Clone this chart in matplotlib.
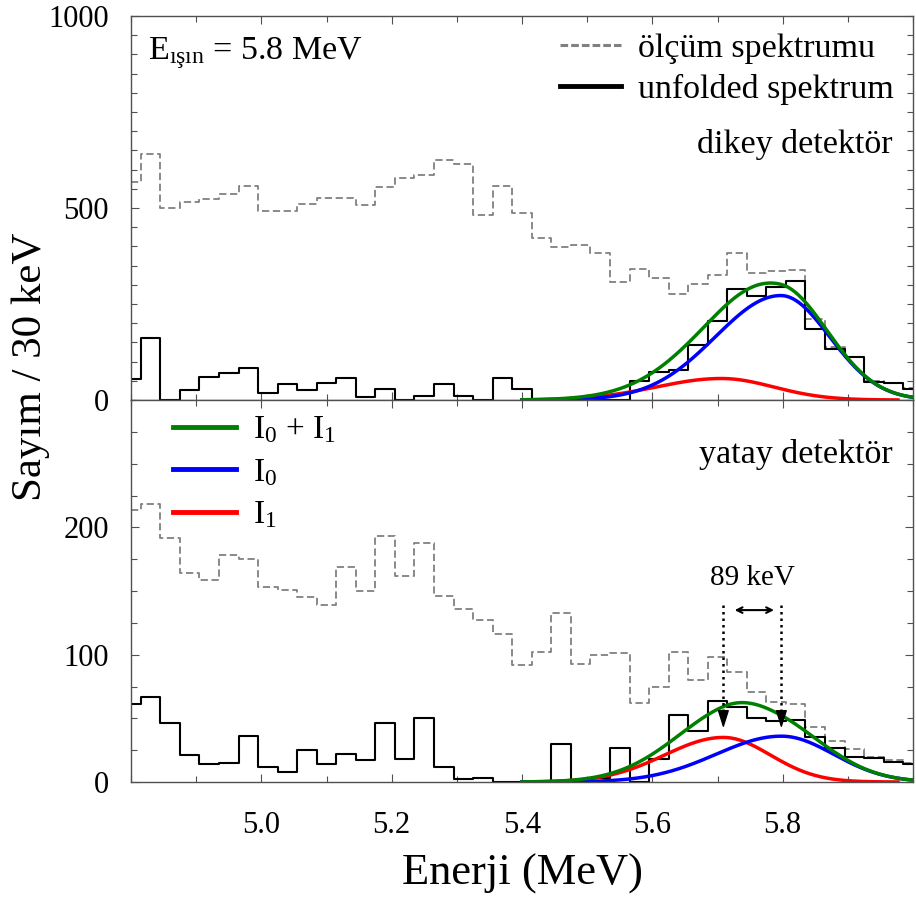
import numpy as np
import matplotlib
matplotlib.use("Agg")
import matplotlib.pyplot as plt
from matplotlib.ticker import MultipleLocator, FixedLocator
from matplotlib.lines import Line2D

plt.rcParams["font.family"] = ["Liberation Serif", "DejaVu Serif"]
plt.rcParams["mathtext.fontset"] = "custom"
plt.rcParams["mathtext.rm"] = "Liberation Serif"
plt.rcParams["mathtext.it"] = "Liberation Serif:italic"

# bin centres (MeV), 30 keV bins
energy = np.round(4.80 + 0.03 * np.arange(41), 2)

# dikey detektor (top panel)
top_measured = [568, 640, 501, 516, 523, 536, 556, 492, 492, 510, 526, 526, 508, 554,
                577, 586, 625, 615, 482, 556, 488, 421, 399, 404, 382, 308, 340, 319,
                276, 302, 326, 384, 332, 336, 339, 211, 139, 111, 50, 45, 30]
top_unfolded = [54, 161, 0, 26, 59, 71, 84, 19, 41, 26, 45, 56, 9, 28, 0, 11, 42, 10,
                0, 56, 28, 0, 0, 0, 0, 0, 50, 73, 78, 143, 206, 289, 271, 295, 311,
                184, 133, 111, 48, 43, 28]

# yatay detektor (bottom panel)
bot_measured = [214, 218, 192, 164, 159, 178, 175, 153, 151, 145, 139, 169, 150, 193,
                162, 188, 146, 136, 127, 116, 92, 102, 133, 93, 100, 101, 62, 75, 102,
                80, 98, 86, 71, 63, 61, 43, 32, 26, 20, 17, 15]
bot_unfolded = [61, 67, 46, 21, 14, 15, 36, 12, 8, 25, 14, 22, 17, 46, 18, 50, 12, 2,
                3, 0, 0, 0, 30, 0, 3, 27, 0, 18, 53, 40, 64, 59, 50, 48, 49, 35, 27,
                20, 19, 16, 14]

# fitted peaks: amplitude, centroid (MeV), low-side sigma, high-side sigma
top_I0 = (272, 5.797, 0.100, 0.075)
top_I1 = (56, 5.706, 0.100, 0.080)
bot_I0 = (36, 5.798, 0.100, 0.080)
bot_I1 = (35, 5.709, 0.090, 0.072)

GRAY = "#808080"
FRAME = "#505050"


def peak(e, amp, mu, sig_lo, sig_hi):
    sig = np.where(e < mu, sig_lo, sig_hi)
    return amp * np.exp(-0.5 * ((e - mu) / sig) ** 2)


def drawPanel(ax, measured, unfolded, I0, I1):
    ax.step(energy, measured, where="mid", color=GRAY, lw=1.3, dashes=(4, 2))
    ax.step(energy, unfolded, where="mid", color="black", lw=1.5)
    e = np.linspace(5.40, 6.0, 400)
    e_red = np.linspace(5.40, 5.977, 400)
    ax.plot(e_red, peak(e_red, *I1), color="#ff0000", lw=2.5)
    ax.plot(e, peak(e, *I0), color="#0000ff", lw=2.5)
    ax.plot(e, peak(e, *I0) + peak(e, *I1), color="#008000", lw=2.5)


def styleAxes(ax, ymax, ymajor, yminor):
    ax.set_xlim(4.8, 6.0)
    ax.set_ylim(0, ymax)
    ax.xaxis.set_major_locator(FixedLocator([5.0, 5.2, 5.4, 5.6, 5.8]))
    ax.xaxis.set_minor_locator(MultipleLocator(0.1))
    ax.yaxis.set_major_locator(MultipleLocator(ymajor))
    ax.yaxis.set_minor_locator(MultipleLocator(yminor))
    ax.tick_params(which="both", direction="in", top=True, right=True,
                   color=FRAME, width=0.8, labelsize=22)
    ax.tick_params(which="major", length=6)
    ax.tick_params(which="minor", length=4)
    ax.tick_params(axis="y", pad=16)
    ax.tick_params(axis="x", pad=21)
    for s in ax.spines.values():
        s.set_color(FRAME)
        s.set_linewidth(1.0)


fig = plt.figure(figsize=(9.16, 9.01), dpi=100)
axTop = fig.add_axes([131 / 916, 1 - 400 / 901, 782 / 916, 384 / 901])
axBot = fig.add_axes([131 / 916, 1 - 782 / 901, 782 / 916, 382 / 901])

drawPanel(axTop, top_measured, top_unfolded, top_I0, top_I1)
drawPanel(axBot, bot_measured, bot_unfolded, bot_I0, bot_I1)
styleAxes(axTop, 1000, 500, 50)
styleAxes(axBot, 300, 100, 25)
axTop.tick_params(axis="x", labelbottom=False)
axBot.set_yticks([0, 100, 200])

# texts
axTop.text(0.0217, 0.888, r"E$_\mathrm{ışın}$ = 5.8 MeV", transform=axTop.transAxes,
           fontsize=24.5, va="baseline", ha="left")
axTop.text(0.9744, 0.643, "dikey detektör", transform=axTop.transAxes,
           fontsize=24.5, va="baseline", ha="right")
axBot.text(0.9744, 0.835, "yatay detektör", transform=axBot.transAxes,
           fontsize=24.5, va="baseline", ha="right")

topHandles = [Line2D([], [], color=GRAY, lw=2.2, dashes=(2.5, 1)),
              Line2D([], [], color="black", lw=3.5)]
axTop.legend(topHandles, ["ölçüm spektrumu", "unfolded spektrum"], loc="upper left",
             bbox_to_anchor=(0.5486, 0.955), frameon=False, fontsize=24.5,
             handlelength=1.8, handletextpad=0.5, borderpad=0, borderaxespad=0,
             labelspacing=0.28)

botHandles = [Line2D([], [], color="#008000", lw=3.5),
              Line2D([], [], color="#0000ff", lw=3.5),
              Line2D([], [], color="#ff0000", lw=3.5)]
axBot.legend(botHandles, [r"I$_0$ + I$_1$", r"I$_0$", r"I$_1$"], loc="upper left",
             bbox_to_anchor=(0.0537, 0.961), frameon=False, fontsize=24,
             handlelength=1.9, handletextpad=0.5, borderpad=0, borderaxespad=0,
             labelspacing=0.35)

# 89 keV separation between I1 and I0
axBot.text(5.753, 154.5, "89 keV", fontsize=21, ha="center", va="baseline")
axBot.annotate("", xy=(5.791, 135), xytext=(5.722, 135),
               arrowprops=dict(arrowstyle="<->", color="black", lw=1.5))
for mu in (bot_I1[1], bot_I0[1]):
    axBot.plot([mu, mu], [50, 140], color="black", lw=1.8, ls=(0, (1, 1.6)))
    axBot.annotate("", xy=(mu, 40), xytext=(mu, 52),
                   arrowprops=dict(arrowstyle="-|>,head_length=1.1,head_width=0.35",
                                   color="black", lw=1.0))

fig.text(31 / 916, 1 - 367 / 901, "Sayım / 30 keV", rotation=90, fontsize=31,
         ha="center", va="center")
fig.text(522 / 916, 1 - 885 / 901, "Enerji (MeV)", fontsize=32, ha="center",
         va="baseline")

fig.savefig("out.png", dpi=100)
